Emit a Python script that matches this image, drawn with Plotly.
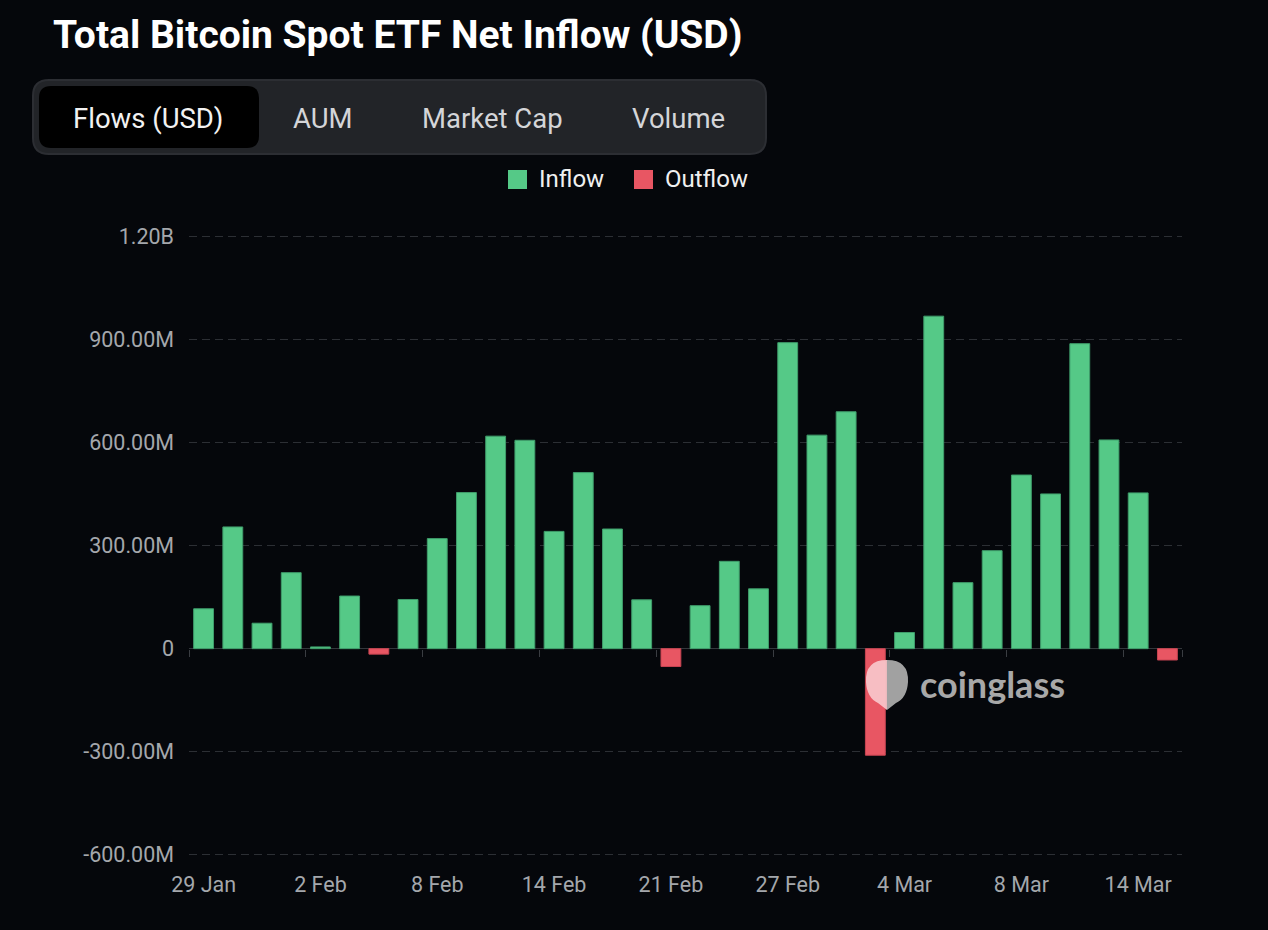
import plotly.graph_objects as go

# ---------------- data ----------------
dates = ["29 Jan", "30 Jan", "31 Jan", "1 Feb", "2 Feb",
         "5 Feb", "6 Feb", "7 Feb", "8 Feb", "9 Feb",
         "12 Feb", "13 Feb", "14 Feb", "15 Feb", "16 Feb",
         "20 Feb", "21 Feb", "22 Feb", "23 Feb",
         "26 Feb", "27 Feb", "28 Feb", "29 Feb", "1 Mar",
         "4 Mar", "5 Mar", "6 Mar", "7 Mar", "8 Mar",
         "11 Mar", "12 Mar", "13 Mar", "14 Mar", "15 Mar"]
flows_musd = [116, 354, 74, 221, 5,
              153, -16, 143, 320, 454,
              618, 606, 341, 512, 348,
              142, -52, 125, 254,
              174, 890, 621, 689, -310,
              47, 967, 192, 285, 505,
              450, 887, 607, 453, -33]
y_tick_vals = [-600e6, -300e6, 0, 300e6, 600e6, 900e6, 1200e6]
y_tick_text = ["-600.00M", "-300.00M", "0", "300.00M", "600.00M", "900.00M", "1.20B"]
tabs = ["Flows (USD)", "AUM", "Market Cap", "Volume"]

# ---------------- styling ----------------
BG = "#05070b"
GREEN = "#55c987"
GREEN_EDGE = "#3f9d6b"
RED = "#e85663"
RED_EDGE = "#c84552"
GRID = "#2c2f34"
TICK_FONT = "#a4a7ac"

W, H = 1268, 930
L, R, T, B = 189, 86, 234, 73
PW, PH = W - L - R, H - T - B
Y_MIN, Y_MAX = -606e6, 1206e6


def px(x):
    return (x - L) / PW


def py(y):
    return (H - B - y) / PH


def rrect(x0, y0, x1, y1, r):
    def P(x, y):
        return f"{px(x):.5f},{py(y):.5f}"
    return (f"M {P(x0 + r, y0)} L {P(x1 - r, y0)} Q {P(x1, y0)} {P(x1, y0 + r)} "
            f"L {P(x1, y1 - r)} Q {P(x1, y1)} {P(x1 - r, y1)} "
            f"L {P(x0 + r, y1)} Q {P(x0, y1)} {P(x0, y1 - r)} "
            f"L {P(x0, y0 + r)} Q {P(x0, y0)} {P(x0 + r, y0)} Z")


idx = list(range(len(dates)))
inflow = [v * 1e6 if v >= 0 else None for v in flows_musd]
outflow = [v * 1e6 if v < 0 else None for v in flows_musd]

fig = go.Figure()
fig.add_trace(go.Bar(x=idx, y=inflow, name="Inflow", width=0.68,
                     marker=dict(color=GREEN, line=dict(color=GREEN_EDGE, width=1)),
                     customdata=dates, hovertemplate="%{customdata}<br>%{y:.3s}<extra>Inflow</extra>"))
fig.add_trace(go.Bar(x=idx, y=outflow, name="Outflow", width=0.68,
                     marker=dict(color=RED, line=dict(color=RED_EDGE, width=1)),
                     customdata=dates, hovertemplate="%{customdata}<br>%{y:.3s}<extra>Outflow</extra>"))
# invisible helper trace so the tick-only axis at y=0 is drawn
fig.add_trace(go.Scatter(x=[idx[0]], y=[0], xaxis="x2", mode="markers",
                         marker=dict(opacity=0), hoverinfo="skip", showlegend=False))

shapes = []
annotations = []

# tab bar
shapes.append(dict(type="path", xref="paper", yref="paper", layer="below",
                   path=rrect(33, 80, 766, 154, 16),
                   fillcolor="#222428", line=dict(color="#2c2e33", width=2)))
shapes.append(dict(type="path", xref="paper", yref="paper", layer="below",
                   path=rrect(39, 86, 259, 148, 12),
                   fillcolor="#000000", line=dict(width=0)))
tab_centers = [148, 323, 492, 678]
for t, cx in zip(tabs, tab_centers):
    annotations.append(dict(text=t, xref="paper", yref="paper", x=px(cx), y=py(118),
                            xanchor="center", yanchor="middle", showarrow=False,
                            font=dict(family="Roboto", size=27.5,
                                      color="#f2f2f2" if t == tabs[0] else "#d4d5d8")))

# legend (manual)
for (x0, col, name) in [(508, GREEN, "Inflow"), (634, RED, "Outflow")]:
    shapes.append(dict(type="rect", xref="paper", yref="paper",
                       x0=px(x0), x1=px(x0 + 19), y0=py(189), y1=py(170),
                       fillcolor=col, line=dict(width=0)))
    annotations.append(dict(text=name, xref="paper", yref="paper", x=px(x0 + 29), y=py(179.5),
                            xanchor="left", yanchor="middle", showarrow=False,
                            font=dict(family="Roboto", size=24, color="#f0f0f0")))

# title
annotations.append(dict(text="<b>Total Bitcoin Spot ETF Net Inflow (USD)</b>", xref="paper", yref="paper",
                        x=px(51), y=py(35), xanchor="left", yanchor="middle", showarrow=False,
                        font=dict(family="Roboto", size=39, color="#ffffff")))

# watermark
shapes.append(dict(type="path", xref="paper", yref="paper", layer="above",
                   path=(f"M {px(887):.5f},{py(660):.5f} "
                         f"Q {px(865):.5f},{py(660):.5f} {px(866):.5f},{py(682):.5f} "
                         f"Q {px(867):.5f},{py(698):.5f} {px(878):.5f},{py(703):.5f} "
                         f"L {px(887):.5f},{py(710):.5f} Z"),
                   fillcolor="rgba(248,196,200,0.95)", line=dict(width=0)))
shapes.append(dict(type="path", xref="paper", yref="paper", layer="above",
                   path=(f"M {px(887):.5f},{py(660):.5f} "
                         f"Q {px(909):.5f},{py(660):.5f} {px(908):.5f},{py(682):.5f} "
                         f"Q {px(907):.5f},{py(698):.5f} {px(896):.5f},{py(703):.5f} "
                         f"L {px(887):.5f},{py(710):.5f} Z"),
                   fillcolor="rgba(170,170,170,0.95)", line=dict(width=0)))
annotations.append(dict(text="<b>coinglass</b>", xref="paper", yref="paper", x=px(918), y=py(684),
                        xanchor="left", yanchor="middle", showarrow=False,
                        font=dict(family="Lato", size=36, color="#a8a8a8")))

boundary_ticks = [i - 0.5 for i in idx[::4]] + [len(dates) - 0.5]

fig.update_layout(
    width=W, height=H,
    paper_bgcolor=BG, plot_bgcolor=BG,
    margin=dict(l=L, r=R, t=T, b=B, autoexpand=False),
    barmode="relative",
    showlegend=False,
    shapes=shapes,
    annotations=annotations,
    font=dict(family="Roboto", color=TICK_FONT),
    xaxis=dict(range=[-0.5, len(dates) - 0.5], tickmode="array",
               tickvals=idx[::4], ticktext=dates[::4], ticks="",
               showgrid=False, zeroline=False, showline=False,
               tickfont=dict(family="Roboto", size=21.5, color=TICK_FONT),
               ticklabelstandoff=12,
               fixedrange=True, automargin=False),
    xaxis2=dict(overlaying="x", matches="x", anchor="free",
                position=(0 - Y_MIN) / (Y_MAX - Y_MIN),
                range=[-0.5, len(dates) - 0.5], tickmode="array",
                tickvals=boundary_ticks, showticklabels=False,
                ticks="outside", ticklen=7, tickcolor="#3a3d42", tickwidth=1,
                showgrid=False, zeroline=False, showline=False,
                fixedrange=True, automargin=False),
    yaxis=dict(range=[Y_MIN, Y_MAX], tickmode="array",
               tickvals=y_tick_vals, ticktext=y_tick_text, ticks="",
               showgrid=True, gridcolor=GRID, griddash="8px,5px", gridwidth=1,
               zeroline=True, zerolinecolor="#34373c", zerolinewidth=1,
               showline=False,
               tickfont=dict(family="Roboto", size=21.5, color=TICK_FONT),
               ticklabelstandoff=14,
               fixedrange=True, automargin=False),
    hoverlabel=dict(bgcolor="#1b1d21", font=dict(color="#ffffff")),
)

fig.write_html("out.html")
